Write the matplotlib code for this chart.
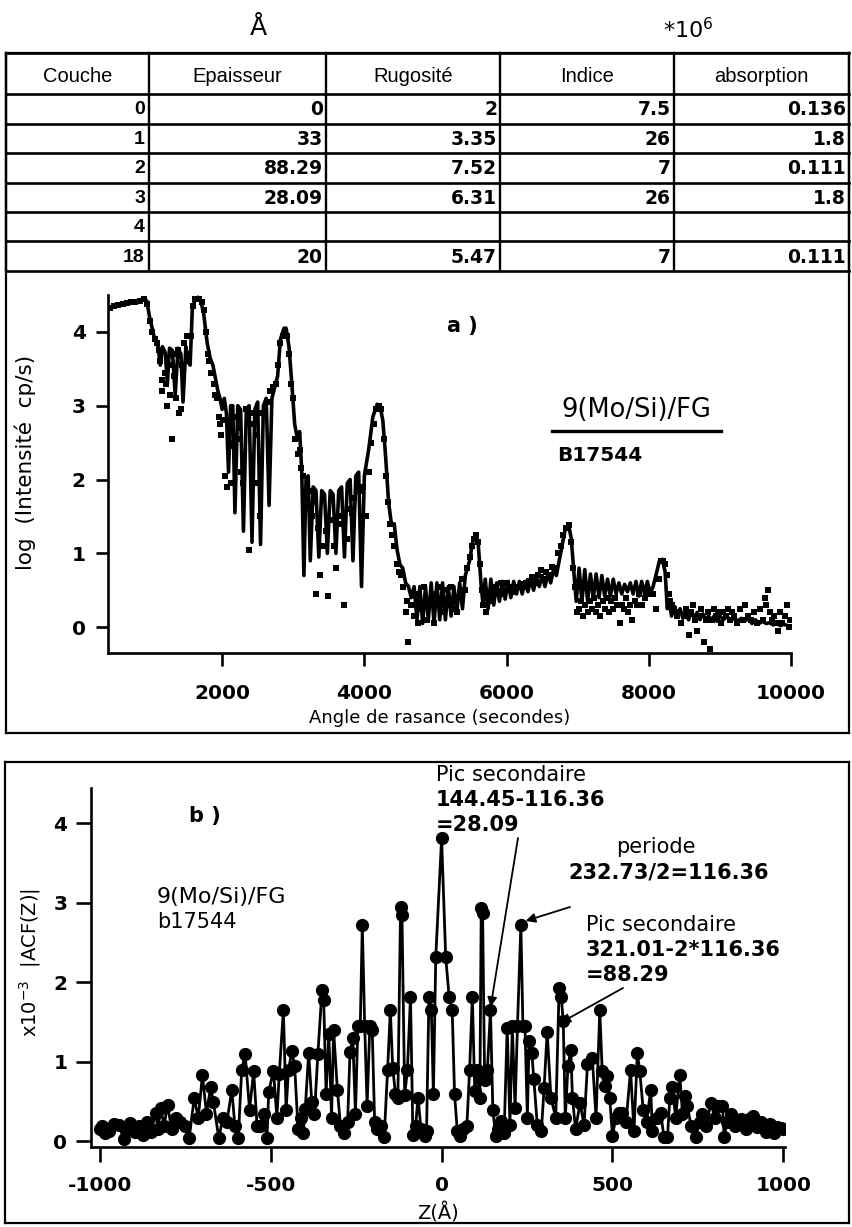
import matplotlib
matplotlib.use('Agg')
import matplotlib.pyplot as plt
from matplotlib.lines import Line2D

plt.rcParams['axes.unicode_minus'] = False
plt.rcParams['font.family'] = ['DejaVu Sans']

W, H = 852, 1227

# ---- table ----
headers = ['Couche', 'Epaisseur', 'Rugosité', 'Indice', 'absorption']
couches = ['0', '1', '2', '3', '4', '18']
epaisseur = ['0', '33', '88.29', '28.09', '', '20']
rugosite = ['2', '3.35', '7.52', '6.31', '', '5.47']
indice = ['7.5', '26', '7', '26', '', '7']
absorption = ['0.136', '1.8', '0.111', '1.8', '', '0.111']

# ---- a) reflectivity: fitted curve ----
angle_fit = [400, 500, 600, 700, 800, 900, 940, 980, 1040, 1100, 1130, 1160, 1200, 1230, 1260,
             1300, 1340, 1380, 1420, 1450, 1490, 1520, 1550, 1580, 1620, 1660, 1700, 1740, 1790,
             1830, 1870, 1900, 1940, 1970, 2000, 2030, 2060, 2090, 2120, 2150, 2180, 2220, 2260,
             2300, 2340, 2380, 2420, 2460, 2500, 2540, 2580, 2620, 2660, 2700, 2740, 2780, 2820,
             2870, 2900, 2940, 2980, 3020, 3060, 3090, 3120, 3150, 3180, 3210, 3240, 3280, 3320,
             3360, 3400, 3440, 3480, 3520, 3560, 3600, 3640, 3680, 3720, 3760, 3800, 3840, 3880,
             3920, 3960, 4000, 4060, 4120, 4180, 4220, 4260, 4300, 4340, 4380, 4420, 4460, 4500,
             4540, 4580, 4620, 4660, 4700, 4740, 4780, 4820, 4860, 4900, 4940, 4980, 5020, 5060,
             5100, 5140, 5180, 5220, 5260, 5300, 5340, 5380, 5420, 5480, 5530, 5570, 5600, 5640,
             5670, 5700, 5740, 5780, 5820, 5860, 5900, 5940, 5980, 6020, 6060, 6100, 6140, 6180,
             6220, 6260, 6300, 6340, 6380, 6420, 6460, 6500, 6540, 6580, 6620, 6660, 6700, 6760,
             6820, 6870, 6910, 6950, 6980, 7020, 7060, 7100, 7140, 7180, 7220, 7260, 7300, 7340,
             7380, 7420, 7460, 7500, 7540, 7580, 7620, 7660, 7700, 7740, 7780, 7820, 7860, 7900,
             7940, 7980, 8020, 8060, 8100, 8150, 8190, 8230, 8260, 8290, 8320, 8360, 8400, 8440,
             8480, 8520, 8560, 8600, 8640, 8680, 8720, 8760, 8800, 8840, 8880, 8920, 8960, 9000,
             9050, 9100, 9150, 9200, 9250, 9300, 9350, 9400, 9450, 9500, 9550, 9600, 9650, 9700,
             9750, 9800, 9850, 9900, 9950, 10000]
logI_fit = [4.33, 4.36, 4.38, 4.40, 4.42, 4.45, 4.42, 4.20, 3.95, 3.80, 3.55, 3.80, 3.72, 3.30, 3.78,
            3.75, 3.15, 3.78, 3.70, 3.05, 3.80, 3.60, 3.55, 4.30, 4.45, 4.47, 4.42, 4.25, 3.85,
            3.65, 3.55, 3.40, 3.20, 3.10, 2.95, 3.10, 2.90, 2.10, 3.00, 3.00, 1.55, 3.00, 2.95,
            1.30, 2.95, 3.00, 1.15, 2.95, 3.05, 1.12, 3.00, 3.10, 1.65, 3.10, 3.25, 3.40, 3.90,
            4.05, 4.05, 3.80, 3.30, 2.75, 2.55, 2.65, 2.10, 0.70, 2.00, 2.05, 0.90, 1.90, 1.85,
            0.95, 1.85, 1.80, 1.00, 1.85, 1.80, 1.00, 1.85, 1.90, 0.95, 1.95, 2.00, 0.90, 2.05,
            2.10, 0.55, 2.05, 2.40, 2.85, 3.02, 3.00, 2.80, 2.30, 1.70, 1.40, 1.40, 1.05, 0.85,
            0.80, 0.60, 0.55, 0.40, 0.55, 0.10, 0.55, 0.05, 0.55, 0.10, 0.60, 0.05, 0.60, 0.10,
            0.60, 0.10, 0.55, 0.15, 0.55, 0.20, 0.60, 0.25, 0.70, 0.90, 1.20, 1.25, 1.15, 0.60,
            0.30, 0.65, 0.25, 0.65, 0.30, 0.60, 0.35, 0.62, 0.38, 0.62, 0.40, 0.62, 0.45, 0.62,
            0.45, 0.62, 0.48, 0.65, 0.50, 0.68, 0.55, 0.70, 0.55, 0.72, 0.60, 0.78, 0.70, 1.00,
            1.30, 1.40, 1.20, 0.70, 0.35, 0.80, 0.35, 0.78, 0.35, 0.72, 0.40, 0.72, 0.40, 0.70,
            0.42, 0.65, 0.42, 0.65, 0.45, 0.60, 0.45, 0.58, 0.48, 0.60, 0.45, 0.62, 0.42, 0.62,
            0.45, 0.62, 0.45, 0.55, 0.70, 0.90, 0.92, 0.75, 0.25, 0.35, 0.15, 0.28, 0.15, 0.25,
            0.12, 0.22, 0.10, 0.22, 0.12, 0.20, 0.10, 0.18, 0.10, 0.15, 0.10, 0.15, 0.08, 0.15,
            0.10, 0.15, 0.08, 0.13, 0.08, 0.12, 0.08, 0.12, 0.05, 0.10, 0.05, 0.08, 0.05, 0.06,
            0.03, 0.05, 0.02, 0.04, 0.02, 0.00]

# ---- a) reflectivity: measured points ----
angle_mes = [420, 480, 540, 600, 660, 720, 780, 840, 900, 950, 990, 1020, 1050, 1080, 1110, 1130,
             1150, 1160, 1190, 1210, 1230, 1250, 1270, 1290, 1310, 1330, 1350, 1380, 1400, 1420,
             1440, 1470, 1500, 1520, 1540, 1560, 1590, 1620, 1650, 1680, 1710, 1740, 1770, 1800,
             1820, 1850, 1880, 1900, 1930, 1950, 1970, 1990, 2010, 2040, 2070, 2100, 2130, 2160,
             2190, 2210, 2240, 2270, 2300, 2340, 2380, 2410, 2440, 2470, 2500, 2530, 2560, 2600,
             2640, 2680, 2720, 2760, 2790, 2820, 2850, 2880, 2910, 2940, 2970, 3000, 3030, 3060,
             3090, 3110, 3140, 3170, 3200, 3230, 3260, 3290, 3320, 3350, 3380, 3420, 3460, 3490,
             3530, 3570, 3600, 3640, 3680, 3710, 3750, 3780, 3820, 3860, 3900, 3940, 3980, 4020,
             4060, 4100, 4130, 4160, 4200, 4240, 4270, 4300, 4330, 4360, 4390, 4420, 4460, 4490,
             4520, 4550, 4580, 4600, 4620, 4660, 4700, 4730, 4760, 4800, 4840, 4880, 4920, 4950,
             4980, 5020, 5060, 5100, 5140, 5180, 5220, 5260, 5300, 5340, 5380, 5420, 5450, 5480,
             5510, 5540, 5570, 5600, 5630, 5650, 5670, 5690, 5710, 5740, 5770, 5800, 5840, 5880,
             5920, 5960, 6000, 6040, 6080, 6120, 6160, 6200, 6240, 6280, 6320, 6360, 6400, 6440,
             6480, 6520, 6560, 6600, 6640, 6680, 6720, 6760, 6800, 6840, 6880, 6910, 6940, 6960,
             6990, 7020, 7050, 7080, 7110, 7140, 7170, 7200, 7230, 7260, 7290, 7320, 7350, 7380,
             7410, 7440, 7470, 7500, 7530, 7560, 7590, 7620, 7650, 7680, 7710, 7740, 7770, 7800,
             7830, 7860, 7900, 7940, 7980, 8020, 8060, 8100, 8140, 8170, 8200, 8230, 8260, 8280,
             8300, 8330, 8360, 8400, 8430, 8460, 8500, 8530, 8560, 8590, 8620, 8650, 8680, 8710,
             8740, 8780, 8800, 8830, 8860, 8890, 8920, 8950, 8980, 9020, 9050, 9080, 9110, 9140,
             9170, 9200, 9240, 9280, 9320, 9360, 9400, 9440, 9480, 9520, 9560, 9600, 9630, 9650,
             9680, 9700, 9730, 9760, 9790, 9820, 9850, 9880, 9910, 9940, 9970, 9990]
logI_mes = [4.33, 4.35, 4.37, 4.38, 4.39, 4.40, 4.41, 4.42, 4.44, 4.38, 4.15, 4.00, 3.90, 3.85, 3.75,
            3.60, 3.35, 3.20, 3.45, 3.30, 3.00, 3.55, 3.15, 2.55, 3.70, 3.40, 3.10, 3.75, 2.90,
            2.95, 3.55, 3.85, 3.95, 3.70, 3.60, 3.95, 4.35, 4.45, 4.45, 4.45, 4.40, 4.30, 4.00,
            3.70, 3.60, 3.45, 3.30, 3.15, 3.10, 2.85, 2.75, 2.60, 2.80, 2.05, 1.90, 2.45, 1.95,
            2.50, 2.85, 2.55, 2.70, 2.10, 1.95, 2.95, 1.05, 2.75, 2.90, 2.60, 1.95, 1.50, 2.90,
            2.95, 3.05, 3.20, 3.25, 3.30, 3.55, 3.85, 3.95, 4.00, 3.95, 3.70, 3.30, 3.10, 2.55,
            2.35, 2.40, 2.15, 2.05, 1.85, 1.65, 1.85, 1.50, 1.70, 0.45, 1.35, 0.70, 1.10, 1.30,
            0.42, 1.45, 1.10, 0.80, 1.50, 1.40, 0.30, 1.20, 1.60, 1.55, 1.75, 2.00, 1.85, 1.90,
            1.50, 2.10, 2.50, 2.75, 2.95, 3.00, 2.95, 2.55, 2.05, 1.70, 1.40, 1.25, 1.10, 0.85,
            0.75, 0.70, 0.55, 0.20, 0.35, -0.20, 0.30, 0.15, 0.45, 0.05, 0.25, 0.55, 0.10, 0.30,
            0.45, 0.05, 0.30, 0.55, 0.20, 0.50, 0.30, 0.55, 0.25, 0.20, 0.45, 0.65, 0.50, 0.80,
            0.95, 1.10, 1.20, 1.25, 1.15, 0.85, 0.50, 0.30, 0.45, 0.20, 0.40, 0.35, 0.50, 0.55,
            0.45, 0.60, 0.45, 0.60, 0.50, 0.55, 0.48, 0.55, 0.58, 0.55, 0.60, 0.62, 0.68, 0.60,
            0.70, 0.78, 0.65, 0.75, 0.70, 0.82, 0.80, 1.00, 1.10, 1.25, 1.35, 1.38, 1.15, 0.80,
            0.55, 0.20, 0.25, 0.35, 0.15, 0.30, 0.20, 0.35, 0.25, 0.40, 0.20, 0.30, 0.15, 0.35,
            0.25, 0.40, 0.20, 0.35, 0.25, 0.40, 0.30, 0.05, 0.30, 0.25, 0.40, 0.20, 0.30, 0.10,
            0.35, 0.30, 0.45, 0.30, 0.40, 0.45, 0.50, 0.45, 0.25, 0.65, 0.90, 0.90, 0.85, 0.70,
            0.45, 0.35, 0.30, 0.25, 0.15, 0.20, 0.05, 0.15, 0.25, -0.10, 0.20, 0.30, 0.10, -0.05,
            0.15, 0.25, -0.20, 0.10, 0.20, -0.30, 0.10, 0.25, 0.15, 0.20, 0.05, 0.20, 0.15, 0.25,
            0.10, 0.20, 0.15, 0.05, 0.25, 0.10, 0.30, 0.15, 0.10, 0.20, 0.05, 0.25, 0.10, 0.40,
            0.30, 0.50, 0.20, 0.10, 0.15, 0.05, -0.05, 0.20, 0.05, 0.15, 0.30, 0.00, 0.10]

# ---- b) autocorrelation |ACF(Z)| (x1e-3) ----
z_acf = [-1000, -993, -985, -974, -960, -945, -930, -920, -911, -898, -886, -874, -862, -850,
         -837, -830, -822, -812, -802, -790, -778, -765, -752, -739, -724, -712, -700, -688,
         -676, -668, -652, -640, -628, -614, -605, -595, -585, -575, -562, -550, -540, -531,
         -520, -511, -506, -492, -482, -475, -463, -455, -448, -438, -430, -420, -412, -405,
         -399, -389, -380, -372, -362, -350, -345, -338, -330, -322, -316, -305, -296, -285,
         -275, -268, -260, -252, -245, -238, -232, -225, -218, -210, -203, -196, -188, -178,
         -168, -158, -150, -143, -135, -128, -120, -116, -108, -100, -91, -84, -76, -69,
         -60, -50, -44, -37, -30, -24, -17, 0,
         12, 22, 31, 38, 46, 55, 64, 74, 82, 90, 97, 104, 112, 116, 120, 126, 134, 143, 150,
         158, 166, 174, 183, 192, 200, 207, 215, 222, 232, 238, 244, 251, 256, 264, 270, 280,
         292, 300, 309, 320, 334, 344, 350, 356, 362, 370, 378, 383, 392, 405, 417, 427, 441,
         452, 463, 470, 477, 485, 492, 500, 510, 520, 529, 540, 553, 563, 573, 580, 590, 600,
         612, 617, 630, 641, 651, 661, 668, 675, 685, 697, 705, 712, 719, 730, 744, 755, 763,
         775, 788, 800, 810, 822, 827, 835, 848, 860, 875, 890, 900, 910, 922, 935, 948, 960,
         972, 983, 993, 1000]
acf = [0.15, 0.19, 0.10, 0.13, 0.22, 0.21, 0.03, 0.15, 0.23, 0.12, 0.19, 0.08, 0.25, 0.12,
       0.36, 0.15, 0.42, 0.20, 0.46, 0.15, 0.30, 0.25, 0.20, 0.04, 0.54, 0.30, 0.83, 0.35,
       0.68, 0.50, 0.04, 0.30, 0.25, 0.65, 0.20, 0.04, 0.90, 1.10, 0.40, 0.88, 0.20, 0.20,
       0.35, 0.04, 0.62, 0.89, 0.30, 0.85, 1.65, 0.40, 0.90, 1.13, 0.95, 0.15, 0.30, 0.10,
       0.41, 1.11, 0.50, 0.35, 1.10, 1.90, 1.78, 0.60, 1.35, 0.30, 1.40, 0.65, 0.20, 0.10,
       0.25, 1.12, 1.30, 0.35, 1.45, 1.45, 2.72, 1.45, 0.45, 1.45, 1.40, 0.25, 0.15, 0.20,
       0.05, 0.90, 1.65, 0.92, 0.60, 0.55, 2.95, 2.85, 0.58, 0.90, 1.82, 0.08, 0.20, 0.55,
       0.15, 0.07, 0.13, 1.82, 1.65, 0.59, 2.32, 3.81,
       2.32, 1.82, 1.65, 0.59, 0.13, 0.07, 0.15, 0.20, 0.90, 1.82, 0.63, 0.90, 0.55, 2.93,
       2.87, 0.77, 0.90, 1.65, 0.40, 0.07, 0.15, 0.26, 0.10, 1.43, 0.21, 1.45, 0.42, 1.45,
       2.72, 1.45, 1.45, 0.30, 1.26, 1.11, 0.78, 0.21, 0.13, 0.67, 1.38, 0.55, 0.30, 1.93,
       1.82, 1.51, 0.30, 0.95, 1.15, 0.55, 0.15, 0.48, 0.21, 0.97, 1.05, 0.30, 1.65, 0.88,
       0.70, 0.82, 0.55, 0.07, 0.30, 0.36, 0.36, 0.25, 0.90, 0.13, 1.11, 0.88, 0.40, 0.25,
       0.65, 0.13, 0.30, 0.36, 0.05, 0.05, 0.55, 0.69, 0.30, 0.84, 0.35, 0.57, 0.45, 0.20,
       0.05, 0.25, 0.34, 0.20, 0.48, 0.30, 0.44, 0.44, 0.05, 0.25, 0.35, 0.20, 0.28, 0.15,
       0.28, 0.32, 0.18, 0.25, 0.12, 0.22, 0.10, 0.18, 0.17, 0.15]


def fx(px):
    return px / W


def fy(py):
    return 1 - py / H


def hline(fig, x0, x1, y, lw=1.6):
    fig.add_artist(Line2D([fx(x0), fx(x1)], [fy(y), fy(y)], transform=fig.transFigure,
                          color='black', lw=lw))


def vline(fig, x, y0, y1, lw=1.6):
    fig.add_artist(Line2D([fx(x), fx(x)], [fy(y0), fy(y1)], transform=fig.transFigure,
                          color='black', lw=lw))


def ftext(fig, px, py, s, **kw):
    fig.text(fx(px), fy(py), s, **kw)


def style_axes(ax, ticklen):
    for side in ['top', 'right']:
        ax.spines[side].set_visible(False)
    for side in ['left', 'bottom']:
        ax.spines[side].set_linewidth(1.9)
    ax.tick_params(direction='out', length=ticklen, width=1.9, labelsize=14.5)
    for lab in ax.get_xticklabels() + ax.get_yticklabels():
        lab.set_fontweight('bold')


fig = plt.figure(figsize=(W / 100, H / 100), dpi=100)

# frames
for (x0, y0, x1, y1) in [(6, 53, 849, 733), (5, 762, 849, 1223)]:
    hline(fig, x0, x1, y0)
    hline(fig, x0, x1, y1)
    vline(fig, x0, y0, y1)
    vline(fig, x1, y0, y1)

# units above the table
ftext(fig, 258, 28, 'Å', ha='center', va='center', fontsize=18)
ftext(fig, 688, 30, '*10$^6$', ha='center', va='center', fontsize=16)

# table grid
col_x = [6, 149, 326, 500, 674, 849]
row_y = [53, 94, 123.5, 153, 182.5, 212, 241.5, 271]
for y in row_y:
    hline(fig, col_x[0], col_x[-1], y, lw=1.9)
for x in col_x:
    vline(fig, x, row_y[0], row_y[-1], lw=1.7)

for j, h in enumerate(headers):
    ftext(fig, (col_x[j] + col_x[j + 1]) / 2, 76, h, ha='center', va='center',
          fontsize=14.5, family='Liberation Sans')

columns = [couches, epaisseur, rugosite, indice, absorption]
for j, col in enumerate(columns):
    for i, val in enumerate(col):
        yc = (row_y[i + 1] + row_y[i + 2]) / 2 + 1
        if j == 0:
            ftext(fig, col_x[1] - 4, yc, val, ha='right', va='center', fontsize=14,
                  family='Liberation Sans', fontweight='bold')
        else:
            ftext(fig, col_x[j + 1] - 3, yc, val, ha='right', va='center', fontsize=13.5,
                  fontweight='bold')

# ---- plot a ----
ax_a = fig.add_axes([fx(108), fy(653), fx(791) - fx(108), fy(295) - fy(653)])
ax_a.plot(angle_fit, logI_fit, color='black', lw=2.6)
ax_a.plot(angle_mes, logI_mes, 's', color='black', ms=4, mew=0)
ax_a.set_xlim(395, 10000)
ax_a.set_ylim(-0.35, 4.5)
ax_a.set_xticks([2000, 4000, 6000, 8000, 10000])
ax_a.set_yticks([0, 1, 2, 3, 4])
style_axes(ax_a, 9)
ax_a.tick_params(axis='x', pad=13)
ax_a.tick_params(axis='y', pad=7)

ftext(fig, 25, 462, 'log  (Intensité  cp/s)', rotation=90, ha='center', va='center',
      fontsize=15.5)
ftext(fig, 440, 718, 'Angle de rasance (secondes)', ha='center', va='center', fontsize=13)
ftext(fig, 462, 326, 'a )', ha='center', va='center', fontsize=15, fontweight='bold')
ftext(fig, 636, 410, '9(Mo/Si)/FG', ha='center', va='center', fontsize=18.5)
hline(fig, 552, 721, 431, lw=2.4)
ftext(fig, 557, 456, 'B17544', ha='left', va='center', fontsize=14.5, fontweight='bold')

# ---- plot b ----
ax_b = fig.add_axes([fx(91), fy(1147), fx(785) - fx(91), fy(788) - fy(1147)])
ax_b.plot(z_acf, acf, '-o', color='black', lw=2.0, ms=8.5)
ax_b.set_xlim(-1026, 1005)
ax_b.set_ylim(-0.07, 4.44)
ax_b.set_xticks([-1000, -500, 0, 500, 1000])
ax_b.set_yticks([0, 1, 2, 3, 4])
style_axes(ax_b, 11)
ax_b.tick_params(axis='x', pad=10)
ax_b.tick_params(axis='y', pad=6)

ftext(fig, 30, 962, 'x10$^{-3}$  |ACF(Z)|', rotation=90, ha='center', va='center', fontsize=14)
ftext(fig, 438, 1213, 'Z(Å)', ha='center', va='center', fontsize=14)
ftext(fig, 205, 816, 'b )', ha='center', va='center', fontsize=15, fontweight='bold')
ftext(fig, 157, 897, '9(Mo/Si)/FG', ha='left', va='center', fontsize=16)
ftext(fig, 157, 922, 'b17544', ha='left', va='center', fontsize=15)

ftext(fig, 436, 775, 'Pic secondaire', ha='left', va='center', fontsize=15)
ftext(fig, 436, 800, '144.45-116.36', ha='left', va='center', fontsize=15, fontweight='bold')
ftext(fig, 436, 825, '=28.09', ha='left', va='center', fontsize=15, fontweight='bold')
ftext(fig, 656, 847, 'periode', ha='center', va='center', fontsize=15)
ftext(fig, 669, 872, '232.73/2=116.36', ha='center', va='center', fontsize=15,
      fontweight='bold')
ftext(fig, 586, 925, 'Pic secondaire', ha='left', va='center', fontsize=15)
ftext(fig, 586, 950, '321.01-2*116.36', ha='left', va='center', fontsize=15, fontweight='bold')
ftext(fig, 586, 975, '=88.29', ha='left', va='center', fontsize=15, fontweight='bold')

arrow = dict(arrowstyle='-|>', lw=1.3, color='black', mutation_scale=14, shrinkA=0, shrinkB=0)
ax_b.annotate('', xy=(143.5, 1.69), xytext=(518, H - 838), textcoords='figure pixels',
              arrowprops=arrow)
ax_b.annotate('', xy=(246, 2.77), xytext=(570, H - 907), textcoords='figure pixels',
              arrowprops=arrow)
ax_b.annotate('', xy=(348, 1.49), xytext=(623, H - 988), textcoords='figure pixels',
              arrowprops=arrow)

fig.savefig('out.png', dpi=100)
